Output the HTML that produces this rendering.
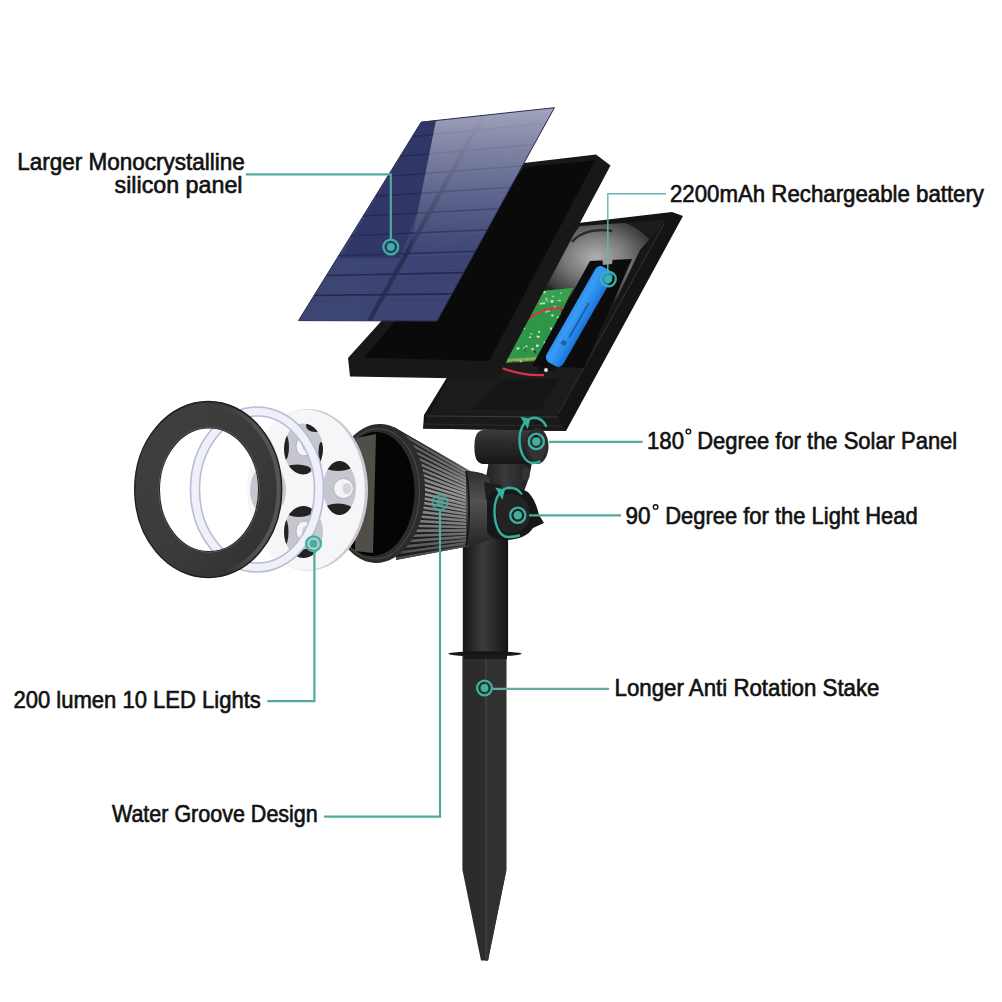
<!DOCTYPE html>
<html><head><meta charset="utf-8"><style>
html,body{margin:0;padding:0;background:#fff;width:1002px;height:1002px;overflow:hidden}
svg{display:block}
.t{font-family:"Liberation Sans",sans-serif;font-size:24px;fill:#111;stroke:#111;stroke-width:0.65px}
</style></head><body>
<svg width="1002" height="1002" viewBox="0 0 1002 1002">
<defs>
<linearGradient id="panelG" x1="0" y1="0" x2="0" y2="1">
<stop offset="0" stop-color="#3a4374"/><stop offset="1" stop-color="#343d6e"/>
</linearGradient>
<linearGradient id="gloss" x1="0" y1="0" x2="0.3" y2="1">
<stop offset="0" stop-color="#c8cbe0" stop-opacity="0.55"/>
<stop offset="0.45" stop-color="#9aa0c8" stop-opacity="0.25"/>
<stop offset="0.8" stop-color="#8088b8" stop-opacity="0"/>
</linearGradient>
<linearGradient id="stakeG" x1="0" y1="0" x2="1" y2="0">
<stop offset="0" stop-color="#1e1e1e"/><stop offset="0.5" stop-color="#3a3a3a"/><stop offset="1" stop-color="#222"/>
</linearGradient>
<linearGradient id="tubeG" x1="0" y1="0" x2="1" y2="0">
<stop offset="0" stop-color="#151515"/><stop offset="0.45" stop-color="#3c3c3c"/><stop offset="0.7" stop-color="#2a2a2a"/><stop offset="1" stop-color="#141414"/>
</linearGradient>
<linearGradient id="coneG" x1="0" y1="0" x2="0" y2="1">
<stop offset="0" stop-color="#2a2a2a"/><stop offset="0.45" stop-color="#6a6a6a"/><stop offset="0.7" stop-color="#555"/><stop offset="1" stop-color="#222"/>
</linearGradient>
<linearGradient id="battG" x1="0" y1="0" x2="1" y2="0">
<stop offset="0" stop-color="#1f5fae"/><stop offset="0.4" stop-color="#3c8ee0"/><stop offset="0.7" stop-color="#5fa9f0"/><stop offset="1" stop-color="#2a6fc0"/>
</linearGradient>
<radialGradient id="housingSpot" cx="0.5" cy="0.5" r="0.5">
<stop offset="0" stop-color="#9a9a9a"/><stop offset="1" stop-color="#2e2e2e"/>
</radialGradient>
</defs>

<!-- ===== BACK HOUSING ===== -->
<polygon points="578,223 672,212 683,216 566,431 423,428.5 424,415 446,379" fill="#141414"/>
<polygon points="580,226 665,220 557,415 430,414 448,380" fill="#1c1c1c"/>
<radialGradient id="hs2" cx="0.5" cy="0.45" r="0.55"><stop offset="0" stop-color="#b0b0b0"/><stop offset="0.45" stop-color="#7a7a7a"/><stop offset="0.85" stop-color="#3a3a3a"/><stop offset="1" stop-color="#262626" stop-opacity="0"/></radialGradient>
<clipPath id="housingIn"><polygon points="580,226 665,220 557,415 430,414 448,380"/></clipPath>
<g clip-path="url(#housingIn)"><ellipse cx="596" cy="262" rx="62" ry="44" fill="url(#hs2)"/></g>
<path d="M572,242 C580,232 596,228 612,231" stroke="#2a2a2a" stroke-width="2.5" fill="none"/>
<polygon points="640,250 666,221 560,414 584,368" fill="#161616"/>
<line x1="664" y1="224" x2="558" y2="414" stroke="#2e2e2e" stroke-width="1.2"/>
<polygon points="430,414 557,415 566,431 423,428.5" fill="#1a1a1a"/>
<line x1="426" y1="416" x2="558" y2="417" stroke="#3a3a3a" stroke-width="1.2"/>
<line x1="424" y1="424" x2="562" y2="426" stroke="#2c2c2c" stroke-width="1"/>
<polygon points="500,380 560,379 540,410 470,410" fill="#161616"/>
<!-- PCB -->
<polygon points="520,300 545,290 525,330 510,340" fill="#0e0e0e"/>
<polygon points="541,291 573,288 538,361 505,363" fill="#2e9646"/>
<polygon points="541,291 573,288 566,302 535,304" fill="#3aa552" opacity="0.7"/>
<g opacity="0.85"><rect x="530.2" y="333.3" width="2.3" height="1.1" fill="#e8efe6"/><rect x="542.5" y="302.4" width="2.4" height="1.8" fill="#f2f2f2"/><rect x="537.4" y="335.9" width="1.3" height="2.0" fill="#f2f2f2"/><rect x="557.9" y="300.0" width="2.9" height="1.1" fill="#e8efe6"/><rect x="561.0" y="308.2" width="2.2" height="2.4" fill="#1b3b22"/><rect x="531.9" y="348.1" width="1.9" height="2.4" fill="#cfd8cc"/><rect x="519.8" y="360.4" width="1.9" height="1.9" fill="#cfd8cc"/><rect x="533.6" y="350.5" width="2.1" height="1.8" fill="#1b3b22"/><rect x="550.6" y="300.2" width="2.7" height="2.4" fill="#f2f2f2"/><rect x="543.7" y="341.5" width="1.4" height="2.2" fill="#f2f2f2"/><rect x="537.8" y="335.9" width="2.0" height="1.5" fill="#e8efe6"/><rect x="525.0" y="345.7" width="2.7" height="1.1" fill="#f2f2f2"/><rect x="556.8" y="316.3" width="2.2" height="1.8" fill="#cfd8cc"/><rect x="546.5" y="299.7" width="1.1" height="2.3" fill="#cfd8cc"/><rect x="512.0" y="361.0" width="2.6" height="1.4" fill="#243f2a"/><rect x="554.0" y="305.8" width="1.6" height="2.5" fill="#f2f2f2"/><rect x="545.1" y="298.0" width="2.3" height="1.5" fill="#cfd8cc"/><rect x="551.2" y="314.4" width="2.4" height="2.1" fill="#e8efe6"/><rect x="547.7" y="310.4" width="2.2" height="1.3" fill="#dfe8dc"/><rect x="545.5" y="310.5" width="1.8" height="2.2" fill="#e8efe6"/><rect x="549.5" y="308.2" width="1.7" height="2.0" fill="#243f2a"/><rect x="552.5" y="295.6" width="1.6" height="1.5" fill="#dfe8dc"/><rect x="534.8" y="352.2" width="1.3" height="1.5" fill="#243f2a"/><rect x="523.4" y="347.0" width="1.1" height="2.4" fill="#cfd8cc"/><rect x="559.8" y="313.9" width="1.3" height="1.4" fill="#cfd8cc"/><rect x="536.6" y="335.6" width="1.6" height="1.9" fill="#e8efe6"/><rect x="534.5" y="359.3" width="2.9" height="1.3" fill="#243f2a"/><rect x="536.1" y="344.5" width="2.5" height="2.4" fill="#f2f2f2"/><rect x="524.5" y="348.8" width="1.1" height="2.4" fill="#243f2a"/><rect x="539.8" y="302.9" width="2.8" height="1.6" fill="#e8efe6"/><rect x="550.1" y="327.4" width="1.8" height="2.4" fill="#f2f2f2"/><rect x="560.2" y="292.6" width="1.4" height="1.2" fill="#e8efe6"/><rect x="516.6" y="347.4" width="2.8" height="2.2" fill="#e8efe6"/><rect x="538.2" y="330.8" width="1.8" height="2.1" fill="#dfe8dc"/><rect x="523.3" y="327.5" width="1.8" height="1.7" fill="#e8efe6"/><rect x="553.5" y="326.7" width="2.0" height="1.2" fill="#e8efe6"/><rect x="528.9" y="336.5" width="2.2" height="1.5" fill="#dfe8dc"/><rect x="543.5" y="291.2" width="1.9" height="2.0" fill="#f2f2f2"/><rect x="530.9" y="348.1" width="2.2" height="1.6" fill="#cfd8cc"/><rect x="526.4" y="359.3" width="1.8" height="1.0" fill="#dfe8dc"/></g>
<rect x="507" y="358" width="30" height="3" fill="#c8b860" opacity="0.6" transform="rotate(-3 520 360)"/>
<path d="M527,320 C540,310 552,306 566,309" stroke="#e0304e" stroke-width="2" fill="none"/>
<path d="M502,368 C515,373 530,376 544,375" stroke="#e0304e" stroke-width="2.2" fill="none"/>
<!-- battery holder -->
<polygon points="590,261 632,259 584,368 532,366" fill="#0c0c0c"/>
<linearGradient id="battG2" x1="0" y1="0" x2="0" y2="1"><stop offset="0" stop-color="#1a70d0"/><stop offset="0.3" stop-color="#2688ea"/><stop offset="0.75" stop-color="#3a9cf6"/><stop offset="1" stop-color="#2e90f0"/></linearGradient>
<rect x="-55" y="-9.7" width="110" height="19.4" rx="6" fill="url(#battG2)" transform="translate(579.3,316.5) rotate(119.7)"/>
<g opacity="0.45" fill="#0d2a60"><rect x="-22" y="-1" width="40" height="2" transform="translate(578,322) rotate(119.7)"/><rect x="-3" y="-3" width="5" height="5" transform="translate(563,343) rotate(119.7)"/></g>
<rect x="538" y="366" width="18" height="5" fill="#111"/>
<circle cx="546" cy="370" r="2" fill="#ddd"/>
<polygon points="602,258 613,257 612,264 603,265" fill="#9a9a9a"/>

<!-- ===== MIDDLE FRAME ===== -->
<polygon points="524,163 596,154.5 610.5,165.5 497,379 350,376.5 348,358" fill="#181818"/>
<polygon points="525,167 595,160.5 489,361 364,357.5" fill="#0a0a0a"/>

<!-- ===== SOLAR PANEL ===== -->
<clipPath id="panelClip"><polygon points="421.2,122.1 554.4,107.7 437,321 298.5,320.6"/></clipPath>
<linearGradient id="glossV" x1="0" y1="108" x2="0" y2="262" gradientUnits="userSpaceOnUse">
<stop offset="0" stop-color="#b4b6c8" stop-opacity="0.85"/>
<stop offset="0.4" stop-color="#9a9eba" stop-opacity="0.55"/>
<stop offset="1" stop-color="#7a80a8" stop-opacity="0"/>
</linearGradient>
<g clip-path="url(#panelClip)">
<rect x="290" y="100" width="270" height="230" fill="#3c4472"/>
<path d="M419.2,125.4L552.4,111.3M417.1,128.7L550.5,114.8M415.1,132.0L548.5,118.4M413.0,135.3L546.6,121.9M411.0,138.6L544.6,125.5M406.9,145.3L540.7,132.6M404.8,148.6L538.7,136.1M402.8,151.9L536.8,139.7M400.8,155.2L534.8,143.2M398.7,158.5L532.9,146.8M394.6,165.1L529.0,153.9M392.6,168.4L527.0,157.5M390.5,171.7L525.0,161.0M388.5,175.0L523.1,164.6M386.4,178.3L521.1,168.1M382.3,185.0L517.2,175.2M380.3,188.3L515.3,178.8M378.3,191.6L513.3,182.4M376.2,194.9L511.4,185.9M374.2,198.2L509.4,189.5M370.1,204.8L505.5,196.6M368.0,208.1L503.5,200.1M366.0,211.4L501.6,203.7M363.9,214.7L499.6,207.2M361.9,218.0L497.7,210.8M357.8,224.7L493.7,217.9M355.8,228.0L491.8,221.5M353.7,231.3L489.8,225.0M351.7,234.6L487.9,228.6M349.6,237.9L485.9,232.1M345.5,244.5L482.0,239.2M343.5,247.8L480.0,242.8M341.4,251.1L478.1,246.3M339.4,254.4L476.1,249.9M337.4,257.7L474.2,253.5M333.3,264.4L470.3,260.6M331.2,267.7L468.3,264.1M329.2,271.0L466.4,267.7M327.1,274.3L464.4,271.2M325.1,277.6L462.4,274.8M321.0,284.2L458.5,281.9M318.9,287.5L456.6,285.5M316.9,290.8L454.6,289.0M314.9,294.1L452.7,292.6M312.8,297.4L450.7,296.1M308.7,304.1L446.8,303.2M306.7,307.4L444.8,306.8M304.6,310.7L442.9,310.3M302.6,314.0L440.9,313.9M300.5,317.3L439.0,317.4" stroke="#4a5282" stroke-width="0.6" opacity="0.55" fill="none"/>
<path d="M412.2,136.6L545.8,123.3M400.0,156.4L534.1,144.6M387.7,176.3L522.3,165.9M375.4,196.1L510.6,187.3M363.2,216.0L498.9,208.6M350.9,235.8L487.1,229.9M338.6,255.7L475.4,251.3M326.4,275.5L463.6,272.6M314.1,295.4L451.9,293.9" stroke="#222849" stroke-width="1.6" fill="none" opacity="0.9"/>
<line x1="484" y1="114" x2="368.5" y2="322" stroke="#272d4e" stroke-width="4.5" opacity="0.85"/>
<polygon points="421.2,122.1 436.5,120.5 418,210 400,258 340,258" fill="#262d5c" opacity="0.55"/>
<polygon points="436,120.5 560,106 560,330 440,330 400,300 418,210" fill="url(#glossV)"/>
</g>
<polygon points="421.2,122.1 554.4,107.7 437,321 298.5,320.6" fill="none" stroke="#2a3055" stroke-width="1"/>

<!-- ===== STAKE ===== -->
<polygon points="462.4,656 506.3,656 506.3,870.5 488,960.6 481,960.6 462.4,869.8" fill="#2c2c2c"/>
<polygon points="486,656 506.3,656 506.3,870.5 488,960.6 485,960.6" fill="#313131"/>
<line x1="486" y1="656" x2="486" y2="958" stroke="#3c3c3c" stroke-width="2"/>
<rect x="462.8" y="536" width="45.3" height="116" fill="url(#tubeG)"/>
<ellipse cx="485" cy="653.8" rx="36.7" ry="2.6" fill="#161616"/>
<rect x="464" y="655" width="43" height="4" fill="#1a1a1a"/>

<!-- ===== JOINTS ===== -->
<linearGradient id="armG" x1="0" y1="0" x2="1" y2="0"><stop offset="0" stop-color="#1c1c1c"/><stop offset="0.45" stop-color="#3a3a3a"/><stop offset="1" stop-color="#1e1e1e"/></linearGradient>
<path d="M489,458 L532,462 C530,475 527,485 523,493 L482,488 C486,479 488,469 489,458 Z" fill="url(#armG)"/>
<ellipse cx="526" cy="474" rx="4" ry="7" fill="#3a3a3a" opacity="0.7"/>
<linearGradient id="cylG" x1="0" y1="0" x2="0" y2="1"><stop offset="0" stop-color="#3a3a3a"/><stop offset="0.35" stop-color="#2c2c2c"/><stop offset="1" stop-color="#161616"/></linearGradient>
<path d="M484,430 L538,430 L538,464 L484,464 C476,464 474.4,456 474.4,447 C474.4,438 476,430 484,430 Z" fill="url(#cylG)"/>
<ellipse cx="537" cy="446" rx="11.5" ry="18" fill="#2a2a2a"/>
<ellipse cx="537" cy="446" rx="9" ry="15" fill="#333"/>

<!-- ===== LAMP HEAD ===== -->
<linearGradient id="coneBG" x1="0" y1="424" x2="0" y2="560" gradientUnits="userSpaceOnUse">
<stop offset="0" stop-color="#1a1a1a"/><stop offset="0.5" stop-color="#262626"/><stop offset="1" stop-color="#1a1a1a"/>
</linearGradient>
<polygon points="394,427 470,471 470,546 396,560" fill="url(#coneBG)"/>
<clipPath id="coneClip"><polygon points="394,427 470,471 470,546 396,560"/></clipPath>
<linearGradient id="finG" x1="0" y1="424" x2="0" y2="560" gradientUnits="userSpaceOnUse">
<stop offset="0" stop-color="#444"/><stop offset="0.25" stop-color="#666"/><stop offset="0.5" stop-color="#959595"/><stop offset="0.75" stop-color="#7a7a7a"/><stop offset="1" stop-color="#454545"/>
</linearGradient>
<g clip-path="url(#coneClip)">
<path d="M394.0,424.0L470,471.0M393.8,429.6L470,474.1M393.7,435.2L470,477.2M393.5,440.9L470,480.4M393.3,446.5L470,483.5M393.2,452.1L470,486.6M393.0,457.8L470,489.8M392.8,463.4L470,492.9M392.7,469.0L470,496.0M392.5,474.6L470,499.1M392.3,480.2L470,502.2M392.2,485.9L470,505.4M392.0,491.5L470,508.5M392.2,497.1L470,511.6M392.3,502.8L470,514.8M392.5,508.4L470,517.9M392.7,514.0L470,521.0M392.8,519.6L470,524.1M393.0,525.2L470,527.2M393.2,530.9L470,530.4M393.3,536.5L470,533.5M393.5,542.1L470,536.6M393.7,547.8L470,539.8M393.8,553.4L470,542.9M394.0,559.0L470,546.0" stroke="url(#finG)" stroke-width="2.6" fill="none"/>
</g>
<linearGradient id="collarG" x1="0" y1="0" x2="0" y2="1"><stop offset="0" stop-color="#2e2e2e"/><stop offset="0.4" stop-color="#525252"/><stop offset="1" stop-color="#262626"/></linearGradient>
<path d="M466,471 C476,471 485,473 490,478 L492,538 C486,542 476,545 466,546 Z" fill="url(#collarG)"/>
<path d="M466,471 C470,490 470,528 466,546" stroke="#1a1a1a" stroke-width="2" fill="none"/>
<!-- knuckle -->
<polygon points="484,482 502,485 498,498 486,500" fill="#1e1e1e"/>
<path d="M492,492 C500,486 518,486 528,492 C534,498 537,506 539,515 L544,523 L533,528 C528,536 518,540 505,540 C496,540 489,537 487,532 L487,500 Z" fill="#171717"/>
<path d="M497,497 C505,492 518,493 525,500 C530,506 531,516 528,524 C523,532 512,534 504,532 C497,528 495,510 497,497 Z" fill="#232323"/>
<!-- rim -->
<ellipse cx="378" cy="493.5" rx="47" ry="69.5" transform="rotate(2.8 378 493.5)" fill="#2c2c2c"/>
<ellipse cx="376.5" cy="493.8" rx="43" ry="65" transform="rotate(2.8 376.5 493.8)" fill="none" stroke="#4a4a4a" stroke-width="1"/>
<ellipse cx="374" cy="494" rx="40.5" ry="62" transform="rotate(2.8 374 494)" fill="#050505"/>
<polygon points="356,438 376,434 373,553 355,551" fill="#5a5550" opacity="0.9"/>

<!-- ===== LED DISC ===== -->
<ellipse cx="308" cy="489.8" rx="60" ry="80.8" fill="#c9c9cf"/>
<ellipse cx="306" cy="489.8" rx="58.8" ry="80.2" fill="#f6f6f9"/>
<clipPath id="cupT"><ellipse cx="303.5" cy="449" rx="19.5" ry="25.5"/></clipPath>
<clipPath id="cupR"><ellipse cx="339.5" cy="488" rx="16.5" ry="27"/></clipPath>
<clipPath id="cupB"><ellipse cx="303.5" cy="532" rx="19.5" ry="26"/></clipPath>
<clipPath id="cupL"><ellipse cx="268" cy="490" rx="18" ry="26"/></clipPath>
<g fill="#c6c7ce">
<ellipse cx="303.5" cy="449" rx="19.5" ry="25.5"/>
<ellipse cx="339.5" cy="488" rx="16.5" ry="27"/>
<ellipse cx="303.5" cy="532" rx="19.5" ry="26"/>
<ellipse cx="268" cy="490" rx="18" ry="26"/>
</g>
<g fill="#222">
<g clip-path="url(#cupT)"><ellipse cx="297" cy="470" rx="14" ry="5.5"/><ellipse cx="315" cy="426" rx="9" ry="6"/><ellipse cx="285" cy="447" rx="4" ry="13"/><ellipse cx="321" cy="452" rx="2.5" ry="10"/></g>
<g clip-path="url(#cupR)"><ellipse cx="338" cy="465" rx="15" ry="6"/><ellipse cx="338" cy="510" rx="15" ry="6.5"/></g>
<g clip-path="url(#cupB)"><ellipse cx="299" cy="511" rx="14" ry="6"/><ellipse cx="306" cy="554" rx="12" ry="5"/><ellipse cx="285" cy="532" rx="3.5" ry="13"/></g>
<g clip-path="url(#cupL)"><ellipse cx="270" cy="468" rx="13" ry="5"/><ellipse cx="270" cy="512" rx="13" ry="5"/></g>
</g>
<g fill="#f4f4f7" stroke="#a4a4ac" stroke-width="0.8">
<ellipse cx="304" cy="446" rx="8" ry="10"/>
<ellipse cx="343.5" cy="488.5" rx="10" ry="10"/>
<ellipse cx="304" cy="531" rx="8" ry="10"/>
<ellipse cx="272" cy="490" rx="8" ry="10"/>
</g>
<g fill="#d4d4da">
<ellipse cx="306" cy="446" rx="4" ry="5"/>
<ellipse cx="347" cy="488.5" rx="4.5" ry="5.5"/>
<ellipse cx="306" cy="531" rx="4" ry="5"/>
</g>

<!-- ===== CLEAR RING ===== -->
<path fill-rule="evenodd" d="M190.5,489.5 a66.5,82.5 0 1,0 133,0 a66.5,82.5 0 1,0 -133,0 Z M199.5,489.5 a57.5,73.5 0 1,0 115,0 a57.5,73.5 0 1,0 -115,0 Z" fill="#eff0f8" stroke="#b8bcd8" stroke-width="1.6"/>

<!-- ===== DARK RING ===== -->
<linearGradient id="ringG" x1="0" y1="0" x2="1" y2="1"><stop offset="0" stop-color="#404040"/><stop offset="0.6" stop-color="#3a3a3a"/><stop offset="1" stop-color="#2e2e2e"/></linearGradient>
<path fill-rule="evenodd" d="M134.7,489.6 a73.5,88 0 1,0 147,0 a73.5,88 0 1,0 -147,0 Z M159.3,489.8 a49.7,61.9 0 1,0 99.4,0 a49.7,61.9 0 1,0 -99.4,0 Z" fill="url(#ringG)" stroke="#1e1e1e" stroke-width="1.4"/>
<ellipse cx="209" cy="489.8" rx="50.4" ry="62.6" fill="none" stroke="#5a5a5a" stroke-width="1"/>
<linearGradient id="edgeG" x1="137" y1="0" x2="279" y2="0" gradientUnits="userSpaceOnUse"><stop offset="0.62" stop-color="#555" stop-opacity="0"/><stop offset="0.85" stop-color="#555" stop-opacity="0.9"/><stop offset="1" stop-color="#555" stop-opacity="1"/></linearGradient>
<ellipse cx="208.2" cy="489.6" rx="70.5" ry="85" fill="none" stroke="url(#edgeG)" stroke-width="4"/>

<!-- ===== ANNOTATIONS ===== -->
<ellipse cx="536" cy="436" rx="2" ry="1.4" fill="#050505"/>
<g stroke="#52aa9d" stroke-width="2.2" fill="none">
<polyline points="246,174.3 390.8,174.3 390.8,239"/>

<line x1="549" y1="441.8" x2="642.6" y2="441.8"/>
<line x1="529" y1="515.3" x2="621" y2="515.3"/>
<line x1="493" y1="688.9" x2="609" y2="688.9" stroke="#68aaa3"/>
<polyline points="267.3,701.2 314.4,701.2 314.4,551"/>
<polyline points="324,816.6 440,816.6 440,510"/>
</g>
<polyline points="666,193.7 607.8,193.7 607.8,271" fill="none" stroke="#62b8ae" stroke-width="1.4"/>
<g fill="none" stroke="#3bb2a2" stroke-width="2.3">
<circle cx="390.8" cy="247" r="7.4"/>
<circle cx="608.4" cy="279" r="7.4"/>
<circle cx="536.3" cy="441.5" r="7.6"/>
<circle cx="517.8" cy="515.3" r="7.6"/>
<circle cx="484.5" cy="688" r="7.4"/>
<circle cx="313.5" cy="543.7" r="7.4"/>
</g>
<circle cx="440" cy="502.5" r="7.4" fill="none" stroke="#3fb0a3" stroke-width="2.3" opacity="0.7"/>
<g fill="#3bb2a2">
<circle cx="390.8" cy="247" r="3.9"/>
<circle cx="608.4" cy="279" r="3.9"/>
<circle cx="536.3" cy="441.5" r="4.2"/>
<circle cx="517.8" cy="515.3" r="4.2"/>
<circle cx="484.5" cy="688" r="3.9"/>
<circle cx="313.5" cy="543.7" r="3.9"/>
</g>
<circle cx="440" cy="502.5" r="3.9" fill="#3fb0a3" opacity="0.75"/>
<g fill="none" stroke="#34b09e" stroke-width="2.4" stroke-linecap="round">
<path d="M546,426 C543,419.5 538,417.8 534,417.8 C525,418.5 519.5,428 519.5,440 C519.5,452 525,463 533,463 C536,463 538,462.5 539.5,461.5"/>
<path d="M521.3,493.6 C518,489 513,487.8 509,487.8 C500,488.5 494.5,498 494.5,511 C494.5,526 500,537 508,537 C512,537 516,536.5 519,535.5"/>
</g>
<g fill="#34b09e">
<polygon points="520.3,416.8 530.5,418.6 527.8,429"/>
<polygon points="495.2,487.4 505,489.4 502.4,500"/>
</g>

<!-- ===== TEXT ===== -->
<text class="t" x="17.3" y="169.75" textLength="227.5" lengthAdjust="spacingAndGlyphs">Larger Monocrystalline</text>
<text class="t" x="114.5" y="192.8" textLength="128" lengthAdjust="spacingAndGlyphs">silicon panel</text>
<text class="t" x="670" y="201.9" textLength="314" lengthAdjust="spacingAndGlyphs">2200mAh Rechargeable battery</text>
<text class="t" x="647" y="449.25" textLength="37" lengthAdjust="spacingAndGlyphs">180</text>
<text class="t" x="697.2" y="449.25" textLength="260" lengthAdjust="spacingAndGlyphs">Degree for the Solar Panel</text>
<text class="t" x="625.5" y="524.45" textLength="25" lengthAdjust="spacingAndGlyphs">90</text>
<text class="t" x="665.2" y="524.45" textLength="252.5" lengthAdjust="spacingAndGlyphs">Degree for the Light Head</text>
<text class="t" x="614.5" y="696.35" textLength="265" lengthAdjust="spacingAndGlyphs">Longer Anti Rotation Stake</text>
<text class="t" x="13.4" y="707.9" textLength="247.5" lengthAdjust="spacingAndGlyphs">200 lumen 10 LED Lights</text>
<text class="t" x="111.9" y="822.05" textLength="205.9" lengthAdjust="spacingAndGlyphs">Water Groove Design</text>
<circle cx="688.4" cy="431.6" r="2.3" fill="none" stroke="#111" stroke-width="1.4"/>
<circle cx="655.6" cy="507.1" r="2.3" fill="none" stroke="#111" stroke-width="1.4"/>

</svg>
</body></html>
